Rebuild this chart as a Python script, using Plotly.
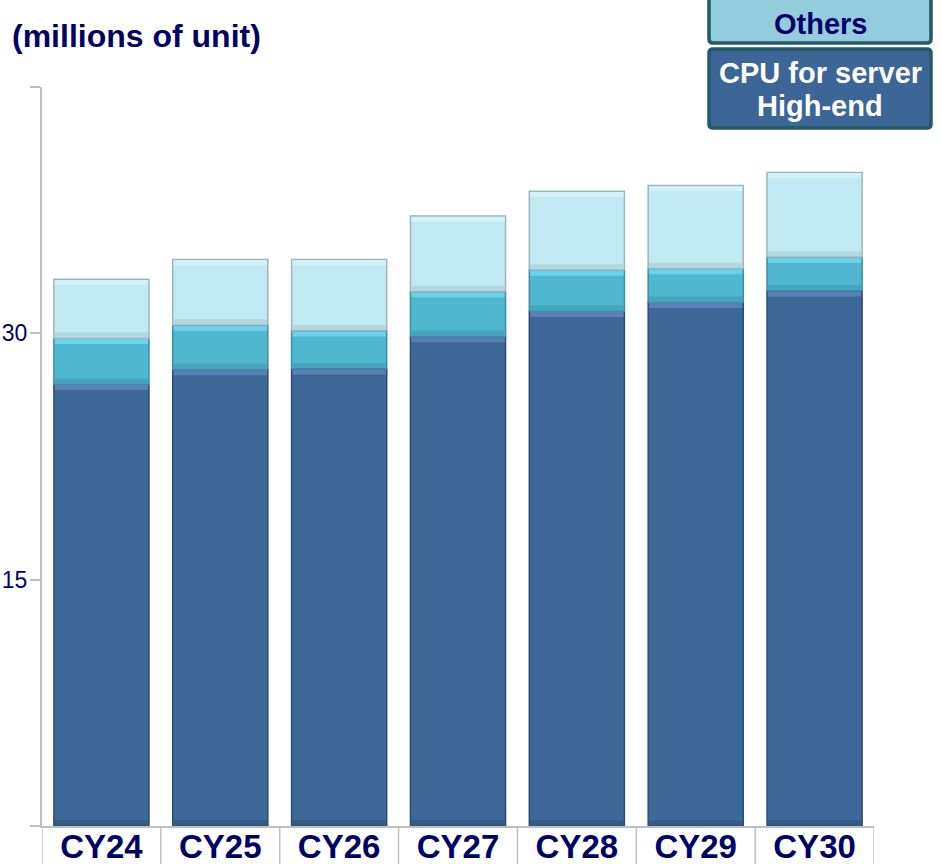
import plotly.graph_objects as go

categories = ["CY24", "CY25", "CY26", "CY27", "CY28", "CY29", "CY30"]
high_end = [26.9, 27.8, 27.85, 29.8, 31.35, 31.9, 32.6]
middle = [2.8, 2.7, 2.3, 2.75, 2.5, 2.05, 2.05]
others = [3.6, 4.0, 4.35, 4.6, 4.8, 5.05, 5.15]
y_tickvals = [0, 15, 30, 45]
y_ticktext = ["", "15", "30", ""]

NAVY = "#000066"
FONT = "Liberation Sans, Arial, sans-serif"
W, H = 942, 864
L, R, T, B = 42, 68, 87, 38

series = [
    # name, values, face, border, highlight, shadow
    ("CPU for server High-end", high_end, "#3D6898", "#2B4C74", "#5A80B6", "#335B88"),
    ("CPU for server (middle)", middle, "#4FB7CF", "#3C8EA2", "#6BD2EA", "#45A5BB"),
    ("Others", others, "#C1E9F2", "#9DB4BA", "#D3F2F8", "#B2D6DE"),
]

fig = go.Figure()
bases = [0.0] * len(categories)
STRIP = 0.3
for name, vals, face, border, hi, sh in series:
    fig.add_trace(go.Bar(x=categories, y=vals, base=bases, name=name, width=0.8,
                         marker=dict(color=face, line=dict(color=border, width=1.5))))
    tops = [b + v for b, v in zip(bases, vals)]
    fig.add_trace(go.Bar(x=categories, y=[STRIP] * len(vals),
                         base=[t - STRIP - 0.05 for t in tops], width=0.785,
                         marker=dict(color=hi, line=dict(width=0)),
                         hoverinfo="skip", showlegend=False))
    fig.add_trace(go.Bar(x=categories, y=[STRIP] * len(vals),
                         base=[b + 0.05 for b in bases], width=0.785,
                         marker=dict(color=sh, line=dict(width=0)),
                         hoverinfo="skip", showlegend=False))
    bases = tops

# category cell separators below the axis
for i in range(len(categories) + 1):
    fig.add_shape(type="line", xref="x", yref="paper", x0=i - 0.5, x1=i - 0.5,
                  y0=0, y1=-0.08, line=dict(color="#BFBFBF", width=1.5))


def px_x(p):
    return (p - L) / (W - L - R)


def px_y(p):
    return (H - B - p) / (H - T - B)


def rounded_rect(x0, y0, x1, y1, r):
    pts = [
        f"M {px_x(x0 + r)},{px_y(y0)}",
        f"L {px_x(x1 - r)},{px_y(y0)}",
        f"Q {px_x(x1)},{px_y(y0)} {px_x(x1)},{px_y(y0 + r)}",
        f"L {px_x(x1)},{px_y(y1 - r)}",
        f"Q {px_x(x1)},{px_y(y1)} {px_x(x1 - r)},{px_y(y1)}",
        f"L {px_x(x0 + r)},{px_y(y1)}",
        f"Q {px_x(x0)},{px_y(y1)} {px_x(x0)},{px_y(y1 - r)}",
        f"L {px_x(x0)},{px_y(y0 + r)}",
        f"Q {px_x(x0)},{px_y(y0)} {px_x(x0 + r)},{px_y(y0)}",
        "Z",
    ]
    return " ".join(pts)


# legend boxes
fig.add_shape(type="path", xref="paper", yref="paper",
              path=rounded_rect(709, -6, 931, 43, 4),
              fillcolor="#93CDDD", line=dict(color="#24596A", width=3.5))
fig.add_shape(type="path", xref="paper", yref="paper",
              path=rounded_rect(709, 49, 931, 128, 4),
              fillcolor="#3B6696", line=dict(color="#24596A", width=3.5))
fig.add_annotation(xref="paper", yref="paper", x=px_x(820), y=px_y(24),
                   xanchor="center", yanchor="middle",
                   text="<b>Others</b>", showarrow=False,
                   font=dict(family=FONT, size=29, color=NAVY))
fig.add_annotation(xref="paper", yref="paper", x=px_x(820), y=px_y(73),
                   xanchor="center", yanchor="middle",
                   text="<b>CPU for server</b>", showarrow=False,
                   font=dict(family=FONT, size=29, color="white"))
fig.add_annotation(xref="paper", yref="paper", x=px_x(820), y=px_y(106),
                   xanchor="center", yanchor="middle",
                   text="<b>High-end</b>", showarrow=False,
                   font=dict(family=FONT, size=29, color="white"))

# unit title
fig.add_annotation(xref="paper", yref="paper", x=px_x(10), y=px_y(36),
                   xanchor="left", yanchor="middle",
                   text="<b>(millions of unit)</b>", showarrow=False,
                   font=dict(family=FONT, size=32, color=NAVY))

fig.update_layout(
    width=W, height=H,
    margin=dict(l=L, r=R, t=T, b=B, autoexpand=False),
    barmode="overlay",
    plot_bgcolor="white", paper_bgcolor="white",
    showlegend=False,
    font=dict(family=FONT, color=NAVY),
)
fig.update_xaxes(range=[-0.5, 6.5], showline=True, linecolor="#BFBFBF", linewidth=2,
                 ticks="", showgrid=False, automargin=False,
                 tickvals=categories, ticktext=[f"<b>{c}</b>" for c in categories],
                 ticklabelstandoff=-10,
                 tickfont=dict(family=FONT, size=33, color=NAVY))
fig.update_yaxes(range=[0, 45], tickvals=y_tickvals, ticktext=y_ticktext,
                 showline=True, linecolor="#BFBFBF", linewidth=2,
                 ticks="outside", ticklen=10, tickcolor="#BFBFBF", tickwidth=2,
                 showgrid=False, zeroline=False, automargin=False,
                 ticklabelstandoff=-2,
                 tickfont=dict(family=FONT, size=23, color=NAVY))

fig.write_html(
    "out.html",
    config={"displayModeBar": False},
    post_script="document.body.style.margin='0';document.documentElement.style.overflow='hidden';",
)
